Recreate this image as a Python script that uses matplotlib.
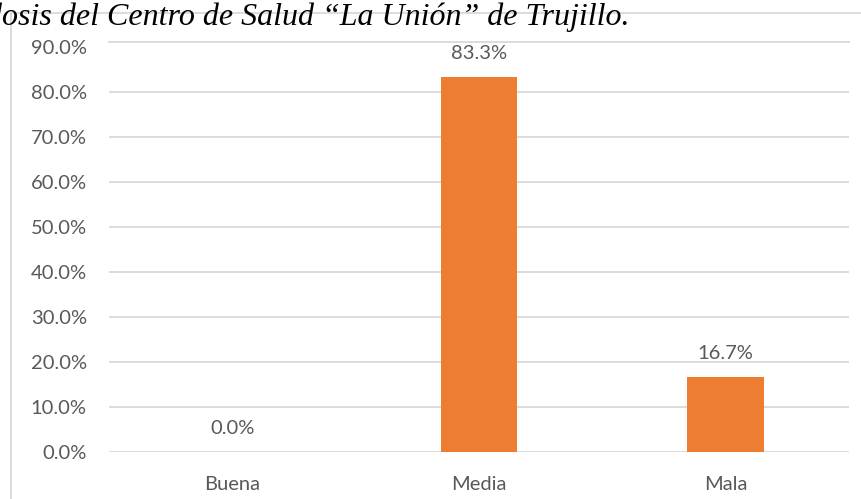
import matplotlib.pyplot as plt
from matplotlib.lines import Line2D
from matplotlib.ticker import FuncFormatter

categorias = ["Buena", "Media", "Mala"]
porcentajes = [0.0, 83.3, 16.7]
etiquetas = ["0.0%", "83.3%", "16.7%"]
titulo = "dosis del Centro de Salud \u201cLa Uni\u00f3n\u201d de Trujillo."

W, H = 862, 499
fig = plt.figure(figsize=(W / 100, H / 100), dpi=100)

# plot area in pixels: x 109..849, y 42..452
ax = fig.add_axes([109 / W, 1 - 452 / H, (849 - 109) / W, (452 - 42) / H])

gris = "#595959"
naranja = "#ED7D31"
linea = "#D9D9D9"

ax.bar(range(len(categorias)), porcentajes, width=0.31, color=naranja, zorder=3)
for i, (v, t) in enumerate(zip(porcentajes, etiquetas)):
    ax.annotate(t, (i, v), xytext=(0, 11), textcoords="offset points",
                ha="center", va="bottom", fontsize=14.5, color=gris, family="Lato")

ax.set_xlim(-0.5, 2.5)
# the top border of the plot area sits a bit above the 90% tick
ax.set_ylim(0, 410 / 4.5)
ax.set_yticks(range(0, 91, 10))
ax.yaxis.set_major_formatter(FuncFormatter(lambda v, p: f"{v:.1f}%"))
ax.set_xticks(range(len(categorias)))
ax.set_xticklabels(categorias)
ax.grid(axis="y", color=linea, linewidth=1.3, zorder=0)
ax.yaxis.get_gridlines()[-1].set_visible(False)
for s in ax.spines.values():
    s.set_visible(False)
ax.spines["top"].set_visible(True)
ax.spines["top"].set_color(linea)
ax.spines["top"].set_linewidth(1.3)
ax.tick_params(length=0, labelsize=14.5, labelcolor=gris, pad=16)
ax.tick_params(axis="x", pad=17)
for lb in ax.get_xticklabels() + ax.get_yticklabels():
    lb.set_family("Lato")

# chart frame (partly outside the picture)
fig.add_artist(Line2D([11 / W, 11 / W], [0, 1 - 13 / H], transform=fig.transFigure,
                      color=linea, linewidth=1.3))
fig.add_artist(Line2D([11 / W, 1], [1 - 13 / H, 1 - 13 / H], transform=fig.transFigure,
                      color=linea, linewidth=1.3))

fig.text(630 / W, 1 - 25 / H, titulo, ha="right", va="baseline", fontsize=23,
         style="italic", family="Liberation Serif", color="black")

fig.savefig("out.png", dpi=100)
